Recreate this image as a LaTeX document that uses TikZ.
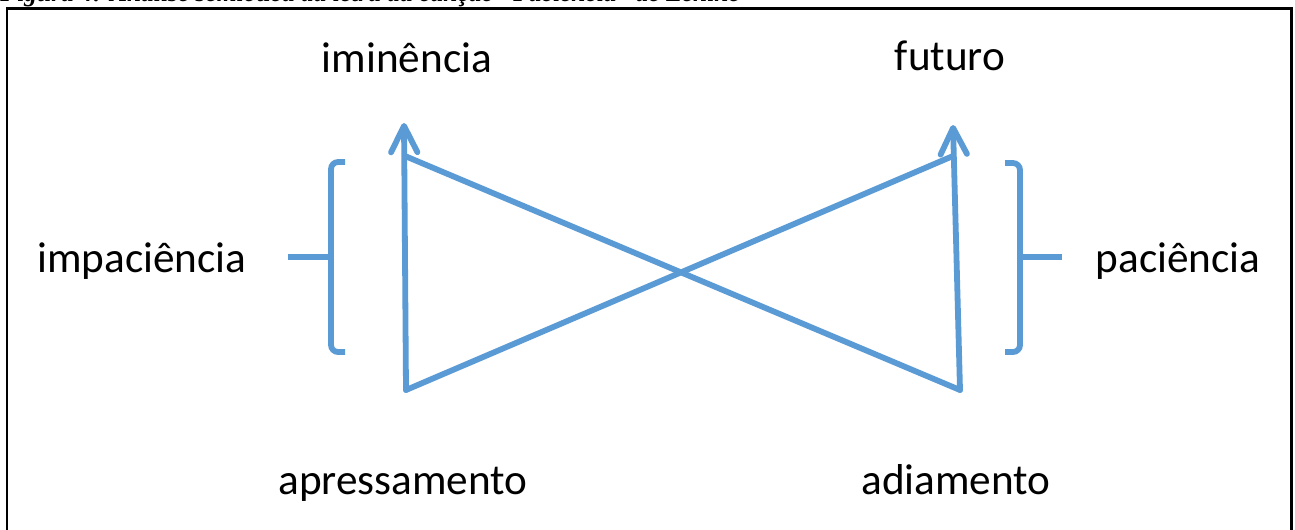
\documentclass[tikz,border=0pt]{standalone}
\usepackage{fontspec}
\setmainfont{Carlito}
\newfontfamily\capfont{Liberation Serif}
\usetikzlibrary{arrows.meta}
\definecolor{officeblue}{HTML}{5B9BD5}
\tikzset{
  lbl/.style={anchor=base, inner sep=0pt, font=\fontsize{24.6pt}{28pt}\selectfont, text=black},
  bl/.style={draw=officeblue, line width=3.3pt, line cap=round, line join=miter},
  arr/.style={bl, -{Straight Barb[length=15pt, width=15pt, line width=3.3pt, round]}},
  frame/.style={draw=black, line width=1.7pt}
}
\begin{document}
\begin{tikzpicture}[x=0.02cm, y=-0.02cm]
\useasboundingbox (0,0) rectangle (1295,529);
\clip (0,0) rectangle (1295,529);
\fill[white] (0,0) rectangle (1295,529);
% caption (cut off at top)
\node[anchor=base west, inner sep=0pt, font=\capfont\bfseries\itshape\fontsize{14.5pt}{16pt}\selectfont] (cap) at (0,1.5) {Figura 4: Análise semiótica da letra da canção “Paciência” de Lenine};
% frame
\draw[frame] (7,560) -- (7,8) -- (1291,8) -- (1291,560);
% labels
\node[lbl] (imin) at (407,72) {iminência};
\node[lbl] (fut) at (950,70) {futuro};
\node[lbl] (impa) at (142,272) {impaciência};
\node[lbl] (pac) at (1178,272) {paciência};
\node[lbl] (apr) at (403,494) {apressamento};
\node[lbl] (adi) at (956,494) {adiamento};
% vertices
\coordinate (BL) at (406,390);
\coordinate (BR) at (960,390);
\coordinate (TLtip) at (404,123);
\coordinate (TRtip) at (953,125);
\coordinate (TL) at (405,156);
\coordinate (TR) at (953,156);
% arrows
\draw[arr] (BL) -- (TLtip);
\draw[arr] (BR) -- (TRtip);
% diagonals
\draw[bl] (TL) -- (BR);
\draw[bl] (BL) -- (TR);
% left bracket
\coordinate (lbt) at (345,162);
\coordinate (lbb) at (345,352);
\coordinate (ltick) at (288,257);
\draw[bl, line cap=butt, rounded corners=4pt] (lbt) -- (331,162) -- (331,352) -- (lbb);
\draw[bl, line cap=butt] (ltick) -- (331,257);
% right bracket
\coordinate (rbt) at (1005,163);
\coordinate (rbb) at (1005,352);
\coordinate (rtick) at (1062,257);
\draw[bl, line cap=butt, rounded corners=4pt] (rbt) -- (1020,163) -- (1020,352) -- (rbb);
\draw[bl, line cap=butt] (rtick) -- (1020,257);
\end{tikzpicture}
\end{document}
